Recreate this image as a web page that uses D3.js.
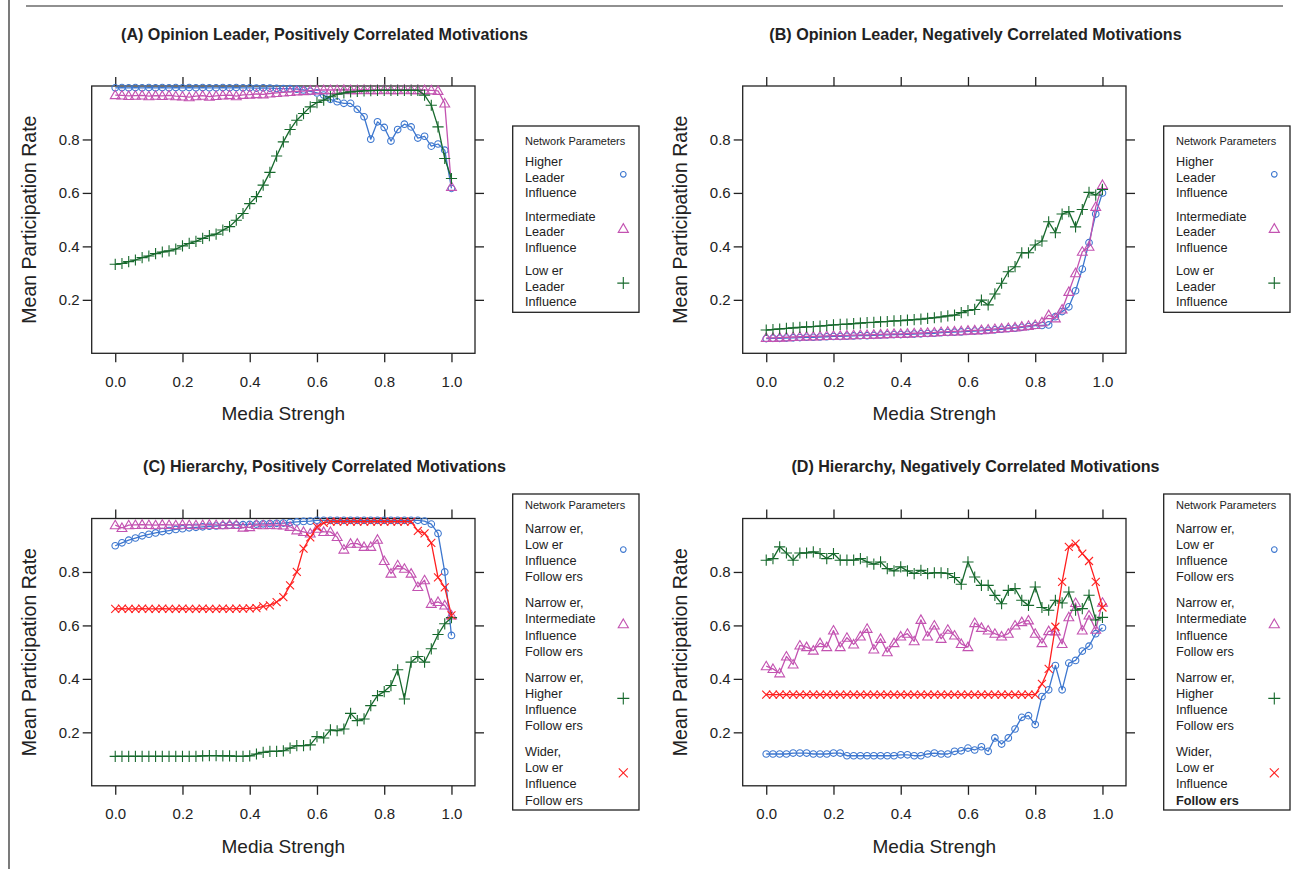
<!DOCTYPE html>
<html>
<head>
<meta charset="utf-8">
<script src="https://cdn.jsdelivr.net/npm/d3@7/dist/d3.min.js"></script>
<style>
  body { margin: 0; background: #fff; }
  svg { display: block; }
  text { font-family: "Liberation Sans", Arial, Helvetica, sans-serif; fill: #222; }
</style>
</head>
<body>
<svg id="fig" width="1298" height="869"></svg>
<script>
// Media strength grid shared by every panel
const mediaStrength = [0,0.02,0.04,0.06,0.08,0.1,0.12,0.14,0.16,0.18,0.2,0.22,0.24,0.26,0.28,0.3,0.32,0.34,0.36,0.38,
  0.4,0.42,0.44,0.46,0.48,0.5,0.52,0.54,0.56,0.58,0.6,0.62,0.64,0.66,0.68,0.7,0.72,0.74,0.76,0.78,
  0.8,0.82,0.84,0.86,0.88,0.9,0.92,0.94,0.96,0.98,1.0];

const xTicks = [0, 0.2, 0.4, 0.6, 0.8, 1.0];
const yTicks = [0.2, 0.4, 0.6, 0.8];

// (A) Opinion leader, positively correlated motivations
const aHigher = [.993,.994,.993,.994,.993,.994,.993,.994,.993,.994,.993,.994,.993,.994,.993,.993,.994,.993,.994,.993,
  .993,.992,.993,.992,.991,.99,.99,.988,.985,.98,.974,.966,.95,.941,.935,.935,.913,.885,.801,.866,
  .845,.794,.837,.857,.847,.805,.812,.775,.783,.76,.617];
const aInter = [.966,.965,.963,.964,.965,.962,.964,.963,.965,.962,.961,.958,.962,.964,.96,.963,.965,.966,.962,.967,
  .968,.97,.969,.972,.974,.976,.978,.98,.981,.983,.984,.985,.985,.985,.986,.985,.985,.986,.985,.985,
  .986,.985,.985,.986,.985,.985,.985,.984,.982,.935,.623];
const aLower = [.333,.336,.343,.349,.358,.364,.373,.379,.383,.39,.402,.411,.419,.43,.44,.446,.461,.474,.498,.523,
  .56,.586,.629,.677,.738,.791,.837,.872,.897,.922,.938,.947,.96,.969,.974,.978,.98,.982,.983,.984,
  .984,.984,.984,.984,.984,.984,.966,.928,.847,.729,.654];

// (B) Opinion leader, negatively correlated motivations
const bHigher = [.055,.056,.056,.057,.058,.059,.06,.06,.061,.062,.063,.063,.064,.065,.066,.066,.067,.068,.069,.07,
  .07,.071,.072,.073,.074,.075,.077,.078,.079,.08,.082,.083,.084,.086,.088,.09,.092,.094,.097,.1,
  .104,.104,.106,.137,.156,.174,.234,.315,.414,.521,.60];
const bInter = [.058,.058,.059,.06,.061,.062,.063,.063,.064,.065,.066,.066,.067,.068,.069,.069,.07,.071,.072,.073,
  .073,.074,.075,.076,.077,.078,.08,.081,.082,.083,.085,.086,.087,.089,.091,.093,.095,.097,.1,.103,
  .106,.116,.143,.131,.164,.23,.3,.38,.399,.548,.63];
const bLower = [.087,.089,.091,.093,.095,.097,.099,.1,.102,.104,.106,.108,.109,.111,.113,.115,.116,.118,.119,.121,
  .122,.124,.126,.128,.131,.133,.136,.14,.143,.152,.16,.164,.199,.181,.222,.262,.305,.324,.376,.376,
  .405,.42,.492,.451,.521,.53,.473,.538,.602,.592,.613];

// (C) Hierarchy, positively correlated motivations
const cNarrowLow = [.898,.909,.919,.927,.935,.941,.946,.951,.955,.959,.962,.965,.967,.969,.971,.972,.974,.975,.976,.977,
  .978,.979,.98,.981,.982,.983,.985,.987,.989,.99,.993,.993,.993,.993,.993,.993,.993,.993,.993,.993,
  .993,.993,.993,.993,.993,.993,.99,.979,.944,.80,.5625];
const cNarrowInter = [.975,.965,.975,.976,.977,.976,.975,.977,.976,.975,.977,.976,.975,.976,.977,.976,.975,.977,.976,.966,
  .968,.976,.975,.976,.975,.974,.969,.956,.95,.944,.962,.95,.95,.931,.884,.906,.906,.894,.894,.921,
  .841,.794,.825,.812,.794,.744,.769,.681,.688,.675,.6375];
const cNarrowHigh = [.11,.11,.11,.11,.11,.11,.11,.11,.11,.11,.11,.11,.11,.112,.113,.113,.112,.112,.11,.11,
  .112,.119,.125,.129,.129,.131,.141,.15,.15,.153,.184,.179,.209,.206,.2125,.271,.244,.25,.30,.3375,
  .3525,.375,.434,.325,.4625,.484,.4625,.5125,.566,.606,.629];
const cWiderLow = [.662,.663,.662,.662,.663,.662,.662,.663,.662,.662,.663,.662,.662,.663,.662,.662,.663,.662,.663,.663,
  .664,.665,.671,.675,.6875,.706,.75,.80,.8875,.929,.969,.984,.988,.988,.988,.988,.988,.988,.988,.988,
  .988,.988,.988,.988,.988,.954,.944,.909,.78,.742,.6375];

// (D) Hierarchy, negatively correlated motivations
const dNarrowLow = [.119,.119,.119,.119,.1225,.1225,.1225,.119,.119,.119,.1225,.1225,.1125,.1125,.1125,.1125,.1125,.1125,.1125,.1125,
  .116,.116,.1125,.1125,.119,.1225,.119,.119,.129,.131,.141,.134,.146,.129,.179,.156,.179,.2125,.256,.2625,
  .229,.334,.359,.45,.359,.459,.469,.504,.5225,.569,.591];
const dNarrowInter = [.4475,.4375,.421,.484,.454,.525,.519,.506,.534,.519,.581,.519,.554,.529,.559,.5875,.51,.55,.50,.534,
  .559,.569,.541,.621,.559,.60,.55,.584,.5625,.531,.519,.609,.591,.581,.569,.559,.569,.60,.6125,.619,
  .569,.534,.579,.578,.531,.631,.684,.581,.6375,.584,.685];
const dNarrowHigh = [.844,.85,.894,.871,.844,.871,.871,.875,.869,.85,.869,.844,.844,.844,.85,.8375,.829,.8375,.8125,.804,
  .819,.804,.794,.806,.794,.797,.797,.794,.779,.754,.8375,.781,.75,.75,.7125,.681,.731,.7375,.694,.675,
  .744,.667,.657,.694,.684,.725,.657,.663,.713,.62,.63];
const dWiderLow = [.341,.341,.341,.341,.341,.341,.341,.341,.341,.341,.341,.341,.341,.341,.341,.341,.341,.341,.341,.341,
  .341,.341,.341,.341,.341,.341,.341,.341,.341,.341,.341,.341,.341,.341,.341,.341,.341,.341,.341,.341,
  .341,.381,.4375,.595,.763,.894,.906,.869,.841,.763,.667];

// Legend labels
const leaderLabels = [["Higher","Leader","Influence"],["Intermediate","Leader","Influence"],["Low er","Leader","Influence"]];
const hierarchyLabels = [["Narrow er,","Low er","Influence","Follow ers"],["Narrow er,","Intermediate","Influence","Follow ers"],
  ["Narrow er,","Higher","Influence","Follow ers"],["Wider,","Low er","Influence","Follow ers"]];

const titles = ["(A) Opinion Leader, Positively Correlated Motivations","(B) Opinion Leader, Negatively Correlated Motivations",
  "(C) Hierarchy, Positively Correlated Motivations","(D) Hierarchy, Negatively Correlated Motivations"];

// Series styling (symbol + colour)
const styles = [
  {shape: "circle",   color: "#3d77cf"},
  {shape: "triangle", color: "#c353b1"},
  {shape: "plus",     color: "#17692d"},
  {shape: "cross",    color: "#ff1f1f"}
];

const panels = [
  {title: titles[0], series: [aHigher, aInter, aLower], labels: leaderLabels, col: 0, row: 0},
  {title: titles[1], series: [bHigher, bInter, bLower], labels: leaderLabels, col: 1, row: 0},
  {title: titles[2], series: [cNarrowLow, cNarrowInter, cNarrowHigh, cWiderLow], labels: hierarchyLabels, col: 0, row: 1},
  {title: titles[3], series: [dNarrowLow, dNarrowInter, dNarrowHigh, dWiderLow], labels: hierarchyLabels, col: 1, row: 1, boldLast: true}
];

const svg = d3.select("#fig");
const ink = "#222";

// page frame lines
svg.append("line").attr("x1", 9).attr("x2", 9).attr("y1", 0).attr("y2", 869)
  .attr("stroke", ink).attr("stroke-width", 1.2);
svg.append("line").attr("x1", 26).attr("x2", 1283).attr("y1", 6).attr("y2", 6)
  .attr("stroke", ink).attr("stroke-width", 1.2);

function symbolPath(shape, s) {
  switch (shape) {
    case "circle":
      return `M${-s},0A${s},${s} 0 1,0 ${s},0A${s},${s} 0 1,0 ${-s},0Z`;
    case "triangle": {
      const w = s * 1.45, h = s * 2.5;
      return `M0,${-h * 0.58}L${w},${h * 0.42}L${-w},${h * 0.42}Z`;
    }
    case "plus":
      return `M${-s},0H${s}M0,${-s}V${s}`;
    case "cross":
      return `M${-s},${-s}L${s},${s}M${-s},${s}L${s},${-s}`;
  }
}
const markSize = {circle: 3.3, triangle: 3.4, plus: 5.6, cross: 4.0};
const keySize  = {circle: 2.8, triangle: 3.5, plus: 6.0, cross: 4.5};

panels.forEach(p => {
  const dx = p.col * 651, dy = p.row * 432.5;
  const box = {left: 91.7 + dx, right: 475 + dx, top: 86 + dy, bottom: 353.3 + dy};
  const x = d3.scaleLinear().domain([-0.07, 1.07]).range([box.left, box.right]);
  const y = d3.scaleLinear().domain([0, 1]).range([box.bottom, box.top]);
  const g = svg.append("g");

  // title, centred over the panel half
  g.append("text").attr("x", 324.5 + dx).attr("y", 34 + dy).attr("dy", "0.36em")
    .attr("text-anchor", "middle").attr("font-size", 16.1).attr("font-weight", "bold").text(p.title);

  // axes
  const fmt = d3.format(".1f");
  const axB = g.append("g").attr("transform", `translate(0,${box.bottom})`)
    .call(d3.axisBottom(x).tickValues(xTicks).tickSize(9).tickPadding(14).tickFormat(fmt));
  const axT = g.append("g").attr("transform", `translate(0,${box.top})`)
    .call(d3.axisTop(x).tickValues(xTicks).tickSize(9).tickFormat(""));
  const axL = g.append("g").attr("transform", `translate(${box.left},0)`)
    .call(d3.axisLeft(y).tickValues(yTicks).tickSize(9).tickPadding(3).tickFormat(fmt));
  const axR = g.append("g").attr("transform", `translate(${box.right},0)`)
    .call(d3.axisRight(y).tickValues(yTicks).tickSize(9).tickFormat(""));
  [axB, axT, axL, axR].forEach(a => {
    a.select(".domain").remove();
    a.selectAll("line").attr("stroke", ink).attr("stroke-width", 1.3);
    a.selectAll("text").attr("font-size", 15).attr("fill", ink)
      .attr("font-family", "'Liberation Sans', Arial, sans-serif");
  });

  // plot frame
  g.append("rect").attr("x", box.left).attr("y", box.top)
    .attr("width", box.right - box.left).attr("height", box.bottom - box.top)
    .attr("fill", "none").attr("stroke", ink).attr("stroke-width", 1.3);

  // axis titles
  g.append("text").attr("x", (box.left + box.right) / 2).attr("y", box.bottom + 60).attr("dy", "0.36em")
    .attr("text-anchor", "middle").attr("font-size", 19).text("Media Strengh");
  g.append("text").attr("transform", `translate(${29 + dx},${(box.top + box.bottom) / 2}) rotate(-90)`)
    .attr("dy", "0.36em").attr("text-anchor", "middle").attr("font-size", 19.5).text("Mean Participation Rate");

  // series
  const line = d3.line().x((d, i) => x(mediaStrength[i])).y(d => y(d));
  p.series.forEach((vals, k) => {
    const st = styles[k];
    const sg = g.append("g");
    sg.append("path").attr("d", line(vals)).attr("fill", "none")
      .attr("stroke", st.color).attr("stroke-width", 1.3).attr("stroke-linejoin", "round");
    sg.selectAll("path.pt").data(vals).enter().append("path").attr("class", "pt")
      .attr("transform", (d, i) => `translate(${x(mediaStrength[i])},${y(d)})`)
      .attr("d", symbolPath(st.shape, markSize[st.shape]))
      .attr("fill", "none").attr("stroke", st.color).attr("stroke-width", 1.1);
  });

  // legend
  const four = p.labels[0].length === 4;
  const lg = {
    left: 512.7 + dx, right: 639 + dx,
    top: four ? 494 + (dy ? 0 : -432.5) : 126 + dy,
    bottom: four ? 810 + (dy ? 0 : -432.5) : 312.3 + dy
  };
  const lineH = four ? 16.2 : 15.6;
  const groupStep = four ? 74.4 : 54.4;
  const first = lg.top + (four ? 34.3 : 35.7);
  g.append("rect").attr("x", lg.left).attr("y", lg.top)
    .attr("width", lg.right - lg.left).attr("height", lg.bottom - lg.top)
    .attr("fill", "#fff").attr("stroke", ink).attr("stroke-width", 1.3);
  g.append("text").attr("x", lg.left + 12.3).attr("y", lg.top + (four ? 11 : 14.7)).attr("dy", "0.36em")
    .attr("font-size", 11).text("Network Parameters");
  p.labels.forEach((lines, k) => {
    const y0 = first + k * groupStep;
    lines.forEach((t, j) => {
      const last = p.boldLast && k === p.labels.length - 1 && j === lines.length - 1;
      g.append("text").attr("x", lg.left + 12.3).attr("y", y0 + j * lineH).attr("dy", "0.36em")
        .attr("font-size", 12.7).attr("font-weight", last ? "bold" : "normal").text(t);
    });
    const st = styles[k];
    const cy = y0 + (lines.length - 1) * lineH / 2 - 3;
    g.append("path").attr("transform", `translate(${lg.right - 15.7},${cy})`)
      .attr("d", symbolPath(st.shape, keySize[st.shape]))
      .attr("fill", "none").attr("stroke", st.color).attr("stroke-width", 1.1);
  });
});
</script>
</body>
</html>
